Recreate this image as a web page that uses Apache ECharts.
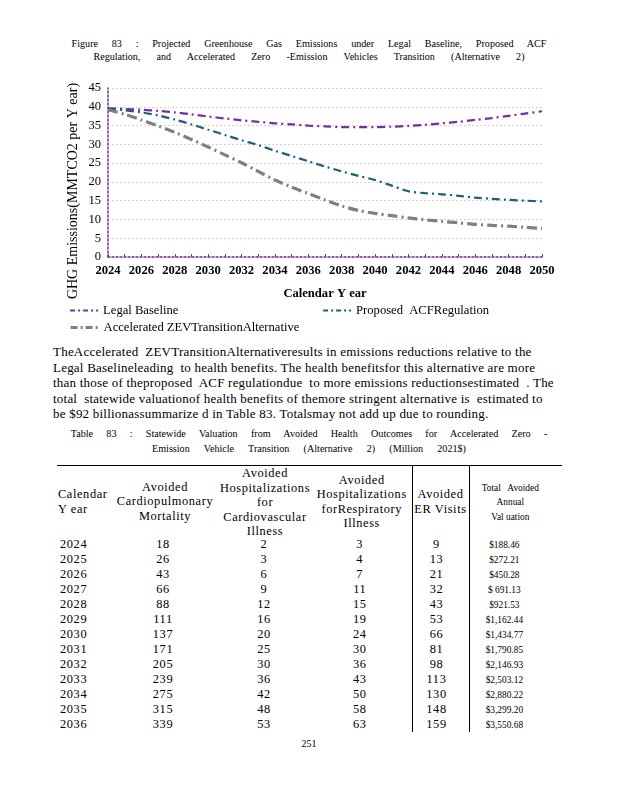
<!DOCTYPE html>
<html>
<head>
<meta charset="utf-8">
<script src="https://cdn.jsdelivr.net/npm/echarts@6/dist/echarts.min.js"></script>
<style>
  html, body { margin:0; padding:0; background:#fff; }
  body { width:618px; height:800px; position:relative; overflow:hidden; font-family:"Liberation Serif","Times New Roman",serif; color:#000; }
  .abs { position:absolute; }
  .cap { font-size:11px; transform:scaleX(0.92); transform-origin:center; white-space:nowrap; }
  #para { left:53px; top:344px; width:560px; font-size:13px; line-height:15.6px; letter-spacing:0.22px; white-space:nowrap; }
  #chart { left:0; top:70px; width:618px; height:270px; }
  table { border-collapse:collapse; position:absolute; left:57px; top:465px; table-layout:fixed; font-size:12.4px; letter-spacing:0.6px; }
  td, th { padding:0; font-weight:normal; }
  thead th { vertical-align:middle; text-align:center; line-height:14.5px; height:71px; border-top:1.5px solid #000; }
  thead th > div.h { height:71px; display:flex; flex-direction:column; justify-content:center; overflow:visible; }
  tbody td { height:15px; line-height:15px; text-align:center; }
  .bl { border-left:1.5px solid #000; }
  .tot { font-size:11px; letter-spacing:0; transform:scaleX(0.85); }
</style>
</head>
<body>
<div class="abs cap" style="left:0;width:618px;top:37px;text-align:center;word-spacing:12.2px;">Figure 83 : Projected Greenhouse Gas Emissions under Legal Baseline, Proposed ACF</div>
<div class="abs cap" style="left:0;width:618px;top:50px;text-align:center;word-spacing:14.8px;">Regulation, and Accelerated Zero -Emission Vehicles Transition (Alternative 2)</div>
<div id="chart" class="abs"></div>
<div id="para" class="abs">TheAccelerated&nbsp; ZEVTransitionAlternativeresults in emissions reductions relative to the<br>Legal Baselineleading&nbsp; to health benefits. The health benefitsfor this alternative are more<br>than those of theproposed&nbsp; ACF regulationdue&nbsp; to more emissions reductionsestimated&nbsp; . The<br>total&nbsp; statewide valuationof health benefits of themore stringent alternative is&nbsp; estimated to<br>be $92 billionassummarize d in Table 83. Totalsmay not add up due to rounding.</div>
<div class="abs cap" style="left:0;width:618px;top:427px;text-align:center;word-spacing:11.7px;">Table 83 : Statewide Valuation from Avoided Health Outcomes for Accelerated Zero -</div>
<div class="abs cap" style="left:0;width:618px;top:442px;text-align:center;word-spacing:12.7px;">Emission Vehicle Transition (Alternative 2) (Million 2021$)</div>
<table id="tbl">
  <colgroup><col style="width:55px"><col style="width:106px"><col style="width:94px"><col style="width:100px"><col style="width:57px"><col style="width:93px"></colgroup>
  <thead><tr id="hdr"></tr></thead>
  <tbody id="tb"></tbody>
</table>
<div class="abs" style="left:0;width:618px;top:738px;text-align:center;font-size:10px;">251</div>
<script>
// ---- Chart data ----
var years = ['2024','2025','2026','2027','2028','2029','2030','2031','2032','2033','2034','2035','2036','2037','2038','2039','2040','2041','2042','2043','2044','2045','2046','2047','2048','2049','2050'];
var legalBaseline = [39.6,39.4,39.2,38.9,38.5,38.0,37.4,36.9,36.4,36.0,35.6,35.3,35.0,34.8,34.6,34.6,34.6,34.7,34.9,35.2,35.6,36.0,36.5,37.0,37.6,38.2,38.8];
var proposedACF = [39.5,39.1,38.5,37.7,36.6,35.3,33.9,32.5,31.1,29.8,28.3,26.9,25.5,24.1,22.8,21.6,20.5,19.0,17.5,17.0,16.7,16.3,15.8,15.5,15.2,15.0,14.8];
var acceleratedZEV = [39.2,38.0,36.5,34.9,33.2,31.3,29.3,27.2,25.1,22.8,20.5,18.6,16.9,15.2,13.6,12.4,11.6,11.0,10.4,9.9,9.5,9.1,8.7,8.4,8.2,7.9,7.6];
var seriesNames = ['Legal Baseline','Proposed  ACFRegulation','Accelerated ZEVTransitionAlternative'];

// ---- Table data ----
var tableHeaders = ['Calendar<br>Y ear','Avoided<br>Cardiopulmonary<br>Mortality','Avoided<br>Hospitalizations<br>for<br>Cardiovascular<br>Illness','Avoided<br>Hospitalizations<br>forRespiratory<br>Illness','Avoided<br>ER Visits','Total&nbsp;&nbsp; Avoided<br>Annual<br>Val uation'];
var tableYears = ['2024','2025','2026','2027','2028','2029','2030','2031','2032','2033','2034','2035','2036'];
var mortality = [18,26,43,66,88,111,137,171,205,239,275,315,339];
var cardio = [2,3,6,9,12,16,20,25,30,36,42,48,53];
var respiratory = [3,4,7,11,15,19,24,30,36,43,50,58,63];
var erVisits = [9,13,21,32,43,53,66,81,98,113,130,148,159];
var totalValuation = ['$188.46','$272.21','$450.28','$ 691.13','$921.53','$1,162.44','$1,434.77','$1,790.85','$2,146.93','$2,503.12','$2,880.22','$3,299.20','$3,550.68'];

// build table
var hdr = document.getElementById('hdr');
tableHeaders.forEach(function(h, i){
  var th = document.createElement('th');
  var inner = '<div class="h">' + h + '</div>';
  if (i === 0) { th.style.textAlign = 'left'; th.style.paddingLeft = '1px'; }
  if (i === 2) { inner = '<div class="h" style="justify-content:flex-start;">' + h + '</div>'; }
  if (i === 4) { th.className = 'bl'; }
  if (i === 5) { th.className = 'bl'; inner = '<div class="h tot" style="padding-right:14px;">' + h + '</div>'; }
  th.innerHTML = inner;
  hdr.appendChild(th);
});
var tb = document.getElementById('tb');
tableYears.forEach(function(y, r){
  var tr = document.createElement('tr');
  var cells = [y, mortality[r], cardio[r], respiratory[r], erVisits[r], totalValuation[r]];
  cells.forEach(function(c, i){
    var td = document.createElement('td');
    td.textContent = c;
    if (i === 0) { td.style.textAlign = 'left'; td.style.paddingLeft = '3px'; }
    if (i === 1) { td.style.paddingRight = '4px'; }
    if (i === 2) { td.style.paddingRight = '2px'; }
    if (i === 3) { td.style.paddingRight = '4px'; }
    if (i === 4) { td.className = 'bl'; td.style.paddingRight = '8px'; }
    if (i === 5) { td.className = 'bl'; td.innerHTML = '<div class="tot" style="padding-right:28px">'+c+'</div>'; }
    tr.appendChild(td);
  });
  tb.appendChild(tr);
});

// chart
var chart = echarts.init(document.getElementById('chart'));
var serif = 'Liberation Serif';
var purple = '#7030A0', teal = '#1D5F76', gray = '#808080';
function legendFor(idx, left, top, color, width, dash) {
  return { orient:'horizontal', left:left, top:top, itemWidth:28, itemHeight:10, itemGap:4,
    textStyle:{ fontFamily:serif, fontSize:12.6, color:'#000' },
    itemStyle:{ opacity:0 },
    lineStyle:{ color:color, width:width, type:dash },
    data:[seriesNames[idx]] };
}
chart.setOption({
  animation:false,
  grid:{ left:108, right:76, top:18, bottom:83, containLabel:false },
  legend:[
    legendFor(0, 64, 229, purple, 2.2, [5,3,2,3]),
    legendFor(1, 317, 229, teal, 2.2, [5,3,2,3]),
    legendFor(2, 64, 246, gray, 3.2, [7,3,2,3])
  ],
  graphic:[{ type:'text', x:73, y:121, rotation:Math.PI/2, style:{ text:'GHG Emissions(MMTCO2 per Y ear)', fontFamily:serif, fontSize:14, fill:'#000', align:'center', verticalAlign:'middle' } }],
  xAxis:{
    type:'category', data:years, boundaryGap:false,
    name:'Calendar Y ear', nameLocation:'middle', nameGap:30,
    nameTextStyle:{ fontFamily:serif, fontSize:12.6, fontWeight:'bold', color:'#000' },
    axisLine:{ lineStyle:{ color:purple, type:[2,2], width:1.5 } },
    axisTick:{ show:true, inside:true, length:3, interval:0, lineStyle:{ color:purple, width:1 } },
    axisLabel:{ interval:1, fontFamily:serif, fontSize:12.6, fontWeight:'bold', color:'#000', margin:7 },
    splitLine:{ show:false }
  },
  yAxis:{
    type:'value', min:0, max:45, interval:5,
    axisLine:{ show:true, lineStyle:{ color:purple, type:[2,2], width:1.5 } },
    axisTick:{ show:false },
    axisLabel:{ fontFamily:serif, fontSize:12.6, color:'#000', margin:7 },
    splitLine:{ show:true, lineStyle:{ color:'#d4d4d4', type:[2,2], width:1 } }
  },
  series:[
    { name:seriesNames[0], type:'line', data:legalBaseline, symbol:'none', smooth:0.3, lineStyle:{ color:purple, width:2.2, type:[8,4,2,4] }, itemStyle:{ color:purple } },
    { name:seriesNames[1], type:'line', data:proposedACF, symbol:'none', smooth:0.3, lineStyle:{ color:teal, width:2.2, type:[8,4,2,4] }, itemStyle:{ color:teal } },
    { name:seriesNames[2], type:'line', data:acceleratedZEV, symbol:'none', smooth:0.3, lineStyle:{ color:gray, width:3.2, type:[10,4,2,4] }, itemStyle:{ color:gray } }
  ]
});
</script>
</body>
</html>
